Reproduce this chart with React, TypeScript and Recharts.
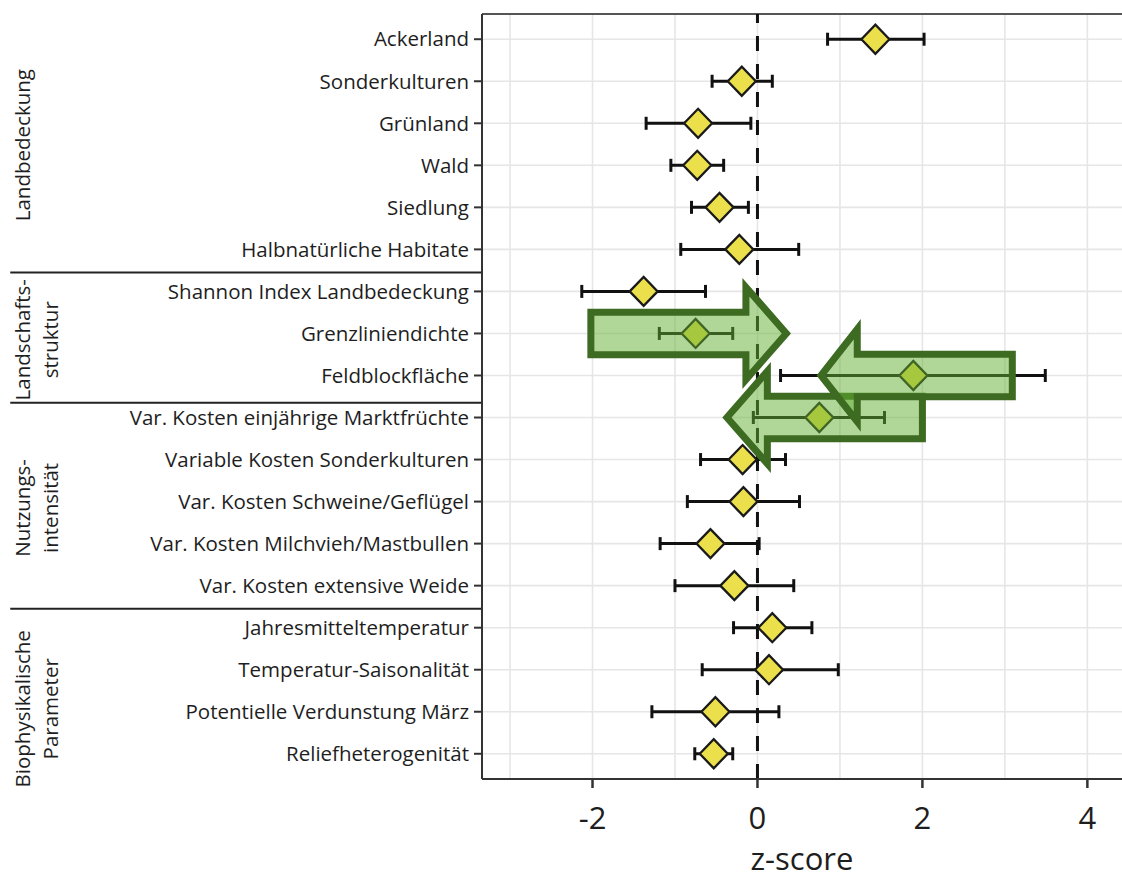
import {
  CartesianGrid,
  ErrorBar,
  ReferenceArea,
  ReferenceDot,
  ReferenceLine,
  Scatter,
  ScatterChart,
  XAxis,
  YAxis,
} from "recharts";

const labels = [
  "Ackerland",
  "Sonderkulturen",
  "Grünland",
  "Wald",
  "Siedlung",
  "Halbnatürliche Habitate",
  "Shannon Index Landbedeckung",
  "Grenzliniendichte",
  "Feldblockfläche",
  "Var. Kosten einjährige Marktfrüchte",
  "Variable Kosten Sonderkulturen",
  "Var. Kosten Schweine/Geflügel",
  "Var. Kosten Milchvieh/Mastbullen",
  "Var. Kosten extensive Weide",
  "Jahresmitteltemperatur",
  "Temperatur-Saisonalität",
  "Potentielle Verdunstung März",
  "Reliefheterogenität",
];
const estimates = [1.43, -0.19, -0.72, -0.73, -0.46, -0.22, -1.38, -0.75, 1.89, 0.75, -0.18, -0.17, -0.57, -0.28, 0.18, 0.14, -0.51, -0.53];
const lower = [0.85, -0.55, -1.35, -1.05, -0.8, -0.93, -2.13, -1.19, 0.28, -0.05, -0.69, -0.85, -1.18, -1.0, -0.29, -0.67, -1.28, -0.76];
const upper = [2.02, 0.18, -0.08, -0.41, -0.11, 0.5, -0.63, -0.3, 3.49, 1.54, 0.34, 0.51, 0.02, 0.44, 0.66, 0.98, 0.26, -0.3];

const xTicks = [-2, 0, 2, 4];
const xGrid = [-3, -2, -1, 0, 1, 2, 3, 4];

// variable groups on the left side
const groupLines = [["Landbedeckung"], ["Landschafts-", "struktur"], ["Nutzungs-", "intensität"], ["Biophysikalische", "Parameter"]];
const groupLabelRows = [3.52, 8.15, 12.15, 16.93];
const groupSeparatorRows = [6.55, 9.65, 14.55];

// hand-drawn arrows (z-score units / row units)
const arrowTails = [-2.02, 2.0, 3.09];
const arrowTips = [0.35, -0.37, 0.77];
const arrowRows = [8, 10, 9];
const arrowHeadLen = [0.49, 0.49, 0.44];

const rows = labels.map((_, i) => i + 1);
const points = labels.map((name, i) => ({
  name,
  row: i + 1,
  est: estimates[i],
  err: [estimates[i] - lower[i], upper[i] - estimates[i]],
}));

const FONT = "'Open Sans', sans-serif";
const INK = "#1e1e1e";

function Diamond(props: any) {
  const { cx, cy } = props;
  if (cx == null || cy == null) return null;
  const w = 14;
  const h = 14.5;
  return (
    <polygon
      points={`${cx - w},${cy} ${cx},${cy - h} ${cx + w},${cy} ${cx},${cy + h}`}
      fill="#ebe04b"
      stroke="#1a1a1a"
      strokeWidth={2.3}
    />
  );
}

function arrowShape(i: number) {
  const pointsRight = arrowTips[i] > arrowTails[i];
  const len = Math.abs(arrowTips[i] - arrowTails[i]);
  return (p: any) => {
    const { x, y, width, height } = p;
    const cy = y + height / 2;
    const hh = height / 2;
    const bh = hh * 0.46;
    const hw = (width * arrowHeadLen[i]) / len;
    let pts: number[][];
    if (pointsRight) {
      const tip = x + width;
      pts = [
        [x, cy - bh],
        [tip - hw, cy - bh],
        [tip - hw, cy - hh],
        [tip, cy],
        [tip - hw, cy + hh],
        [tip - hw, cy + bh],
        [x, cy + bh],
      ];
    } else {
      const tail = x + width;
      pts = [
        [tail, cy - bh],
        [x + hw, cy - bh],
        [x + hw, cy - hh],
        [x, cy],
        [x + hw, cy + hh],
        [x + hw, cy + bh],
        [tail, cy + bh],
      ];
    }
    return (
      <polygon
        points={pts.map((q) => q.join(",")).join(" ")}
        fill="#62b032"
        fillOpacity={0.5}
        stroke="#3d6b21"
        strokeWidth={7}
        strokeLinejoin="miter"
      />
    );
  };
}

function groupShape(lines: string[]) {
  return (p: any) => {
    const { cx, cy } = p;
    if (cx == null || cy == null) return null;
    return (
      <g>
        {lines.map((t, k) => {
          const x = cx - 2 + k * 28;
          return (
            <text
              key={t}
              x={x}
              y={cy}
              transform={`rotate(-90 ${x} ${cy})`}
              textAnchor="middle"
              dominantBaseline="central"
              fontSize={20.5}
              fontFamily={FONT}
              fill={INK}
            >
              {t}
            </text>
          );
        })}
      </g>
    );
  };
}

export default function App() {
  return (
    <div style={{ position: "absolute", left: 0, top: 0, width: 1122, height: 879, background: "#fff" }}>
      <ScatterChart
        width={1122}
        height={879}
        margin={{ top: 14, right: 0, bottom: 0, left: 0 }}
        style={{ fontFamily: FONT }}
      >
        <CartesianGrid
          stroke="#e6e6e6"
          strokeWidth={1.6}
          verticalValues={xGrid}
          horizontalValues={rows}
        />
        <XAxis
          type="number"
          dataKey="est"
          domain={[-3.34, 4.42]}
          allowDataOverflow
          ticks={xTicks}
          height={100}
          tickSize={9}
          tickMargin={19}
          tick={{ fill: INK, fontSize: 31, fontFamily: FONT }}
          tickLine={{ stroke: "#333", strokeWidth: 2.5 }}
          axisLine={{ stroke: "#333", strokeWidth: 2 }}
          label={{
            content: (lp: any) => {
              const vb = lp.viewBox;
              return (
                <text
                  x={vb.x + vb.width / 2}
                  y={vb.y + 91}
                  textAnchor="middle"
                  fontSize={31}
                  fontFamily={FONT}
                  fill={INK}
                >
                  z-score
                </text>
              );
            },
          }}
        />
        <YAxis
          type="number"
          dataKey="row"
          domain={[0.4, 18.6]}
          reversed
          allowDataOverflow
          ticks={rows}
          interval={0}
          width={482}
          tickSize={8}
          tickMargin={5}
          tickFormatter={(v: number) => labels[v - 1]}
          tick={{ fill: INK, fontSize: 20.5, fontFamily: FONT }}
          tickLine={{ stroke: "#333", strokeWidth: 2 }}
          axisLine={{ stroke: "#333", strokeWidth: 2 }}
        />
        <ReferenceLine y={0.4} stroke="#555" strokeWidth={2} />
        <ReferenceLine x={0} stroke="#111" strokeWidth={3} strokeDasharray="15 13" />
        {groupSeparatorRows.map((r) => (
          <ReferenceLine
            key={r}
            ifOverflow="visible"
            segment={[
              { x: -9.06, y: r },
              { x: -3.34, y: r },
            ]}
            stroke="#222"
            strokeWidth={2}
          />
        ))}
        {groupLines.map((lines, i) => (
          <ReferenceDot
            key={lines[0]}
            x={-8.89}
            y={groupLabelRows[i]}
            r={1}
            ifOverflow="visible"
            shape={groupShape(lines)}
          />
        ))}
        <Scatter data={points} shape={<Diamond />} isAnimationActive={false}>
          <ErrorBar
            dataKey="err"
            direction="x"
            width={6.5}
            stroke="#111"
            strokeWidth={3}
            isAnimationActive={false}
          />
        </Scatter>
        {arrowTips.map((tip, i) => (
          <ReferenceArea
            key={i}
            x1={Math.min(tip, arrowTails[i])}
            x2={Math.max(tip, arrowTails[i])}
            y1={arrowRows[i] - 1.1}
            y2={arrowRows[i] + 1.1}
            ifOverflow="visible"
            zIndex={1000}
            shape={arrowShape(i)}
          />
        ))}
      </ScatterChart>
    </div>
  );
}
